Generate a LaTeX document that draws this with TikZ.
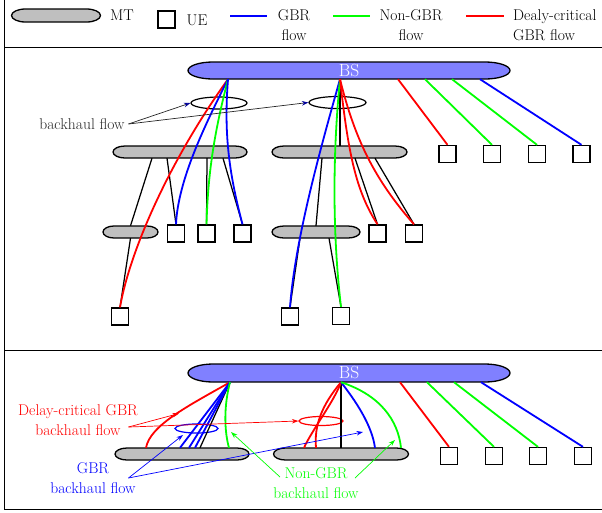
\documentclass[tikz,border=0pt]{standalone}
\usetikzlibrary{arrows.meta,calc,shapes.geometric}
% style, name, cx, cy, width, height, end x-radius, text
\newcommand\pill[8]{%
  \path[#1] ({#3-#5/2+#7},{#4-#6/2}) -- ({#3+#5/2-#7},{#4-#6/2})
    arc[start angle=-90,end angle=90,x radius=#7,y radius=#6/2]
    -- ({#3-#5/2+#7},{#4+#6/2})
    arc[start angle=90,end angle=270,x radius=#7,y radius=#6/2] -- cycle;
  \node[inner sep=0pt,minimum width=#5pt,minimum height=#6pt,text=white,font=\fontsize{17.5}{20}\selectfont] (#2) at (#3,#4) {#8};}
\tikzset{
 shp/.style={draw=black,line width=1.3pt},
 mtp/.style={shp,fill=gray!50},
 bsp/.style={shp,fill=blue!50},
 ue/.style={draw,line width=1.3pt,fill=white,minimum size=17pt,inner sep=0pt},
 bh/.style={draw,ellipse,line width=1.2pt,inner sep=0pt},
 fl/.style={line width=1.8pt},
 gbr/.style={fl,blue}, ngbr/.style={fl,green}, dgbr/.style={fl,red},
 lnk/.style={line width=1.25pt,black},
 ann/.style={line width=0.7pt,-{Stealth[length=6.5pt,width=4.5pt]}},
 txt/.style={font=\fontsize{15.6}{20}\selectfont,align=center,inner sep=0pt},
}
\begin{document}
\begin{tikzpicture}[x=1pt,y=-1pt]
\useasboundingbox (0,0) rectangle (602,512);
\clip (0,0) rectangle (602,512);
% frame
\draw[line width=1.3pt] (4.5,-5) -- (4.5,509.5) -- (610,509.5);
\draw[line width=1.3pt] (4.5,47.5) -- (610,47.5);
\draw[line width=1.3pt] (4.5,350.5) -- (610,350.5);

% ---------------- legend ----------------
\pill{mtp}{lgmt}{56}{15.5}{89}{13}{14}{}
\node[txt,anchor=west] (lgmtt) at (110,15) {MT};
\node[ue] (lgue) at (166.5,19.5) {};
\node[txt] (lguet) at (197,20) {UE};
\coordinate (lgb1) at (230,16); \coordinate (lgb2) at (267,16);
\draw[gbr] (lgb1) -- (lgb2);
\node[txt] (lgbt) at (294,25.5) {GBR\\flow};
\coordinate (lgg1) at (333,16); \coordinate (lgg2) at (370,16);
\draw[ngbr] (lgg1) -- (lgg2);
\node[txt] (lggt) at (411,25.5) {Non-GBR\\flow};
\coordinate (lgr1) at (466,16); \coordinate (lgr2) at (504,16);
\draw[dgbr] (lgr1) -- (lgr2);
\node[txt,align=left,anchor=west] (lgrt) at (513,25.5) {Dealy-critical\\GBR flow};

% ---------------- top panel ----------------
\pill{bsp}{bsT}{349}{70.5}{322}{17}{25}{BS}
\pill{mtp}{mt1}{180}{152}{134}{12}{12}{}
\pill{mtp}{mt2}{339.5}{152}{135}{12}{12}{}
\pill{mtp}{mt3}{130.5}{232}{55}{12}{11}{}
\pill{mtp}{mt4}{316}{232}{88}{12}{12}{}
\node[bh,minimum width=56pt,minimum height=12pt] (bh1) at (219,103) {};
\node[bh,minimum width=57pt,minimum height=12pt] (bh2) at (337.5,102.5) {};
\node[ue] (u1) at (176,233.5) {};
\node[ue] (u2) at (206.5,233.5) {};
\node[ue] (u3) at (242.5,233.5) {};
\node[ue] (u4) at (377.5,233.5) {};
\node[ue] (u5) at (414,233.5) {};
\node[ue] (u7) at (120,316.5) {};
\node[ue] (u8) at (290,316.5) {};
\node[ue] (u9) at (341,316) {};
\node[ue] (u14) at (447.5,154) {};
\node[ue] (u15) at (492,154) {};
\node[ue] (u16) at (537,154) {};
\node[ue] (u17) at (581.5,154) {};
\coordinate (t1) at ($(bsT.south)+(-121,0)$);
\coordinate (t2) at ($(bsT.south)+(-9,0)$);
\coordinate (t3) at ($(bsT.south)+(49,0)$);
\coordinate (t4) at ($(bsT.south)+(76,0)$);
\coordinate (t5) at ($(bsT.south)+(103,0)$);
\coordinate (t6) at ($(bsT.south)+(131,0)$);
% black links
\draw[lnk] ($(mt1.south)+(-28,0)$) -- (mt3.north);
\draw[lnk] (mt3.south) -- (u7.north);
\draw[lnk] ($(mt1.south)+(-13,0)$) -- (u1.north);
\draw[lnk] ($(mt1.south)+(27,0)$) -- (u2.north);
\draw[lnk] ($(mt1.south)+(43,0)$) -- (u3.north);
\draw[lnk] (t2) -- (t2 |- mt2.north);
\draw[lnk] ($(mt2.south)+(-17.5,0)$) -- (mt4.north);
\draw[lnk] ($(mt2.south)+(15.5,0)$) -- (u4.north);
\draw[lnk] ($(mt2.south)+(35.5,0)$) -- (u5.north);
\draw[lnk] ($(mt4.south)+(-16,0)$) -- (u8.north);
\draw[lnk] ($(mt4.south)+(13,0)$) -- (u9.north);
% flows
\draw[dgbr] (t1) .. controls (170,160) and (130,250) .. (u7.north);
\draw[gbr] (t1) .. controls (205,125) and (178,180) .. (u1.north);
\draw[ngbr] (t1) .. controls (215,130) and (208,170) .. (u2.north);
\draw[gbr] (t1) .. controls (224,130) and (228,170) .. (u3.north);
\draw[gbr] (t2) .. controls (320,150) and (295,240) .. (u8.north);
\draw[ngbr] (t2) .. controls (333,150) and (332,230) .. (u9.north);
\draw[dgbr] (t2) .. controls (348,150) and (355,190) .. (u4.north);
\draw[dgbr] (t2) .. controls (355,140) and (375,180) .. (u5.north);
\draw[dgbr] (t3) -- (u14.north);
\draw[ngbr] (t4) -- (u15.north);
\draw[ngbr] (t5) -- (u16.north);
\draw[gbr] (t6) -- (u17.north);
% annotation
\node[txt,text=black!85] (lblT) at (82,124) {backhaul flow};
\coordinate (aT) at (128.5,124);
\draw[line width=0.7pt,black!85,-{Stealth[length=6.5pt,width=4.5pt,color=blue!60!black]}] (aT) -- (bh1.west);
\draw[line width=0.7pt,black!85,-{Stealth[length=6.5pt,width=4.5pt,color=blue!60!black]}] (aT) -- (bh2.west);

% ---------------- bottom panel ----------------
\pill{bsp}{bsB}{349}{373}{322}{18}{25}{BS}
\pill{mtp}{mt5}{182}{454}{134}{12}{12}{}
\pill{mtp}{mt6}{341}{454}{135}{12}{12}{}
\node[ue] (u10) at (449,456) {};
\node[ue] (u11) at (494,456) {};
\node[ue] (u12) at (538,456) {};
\node[ue] (u13) at (583,456) {};
\node[bh,draw=blue,minimum width=43pt,minimum height=9pt] (bhB1) at (196.5,428.5) {};
\node[bh,draw=red,minimum width=44pt,minimum height=9pt] (bhB2) at (321,421) {};
\coordinate (b1) at ($(bsB.south)+(-119,0)$);
\coordinate (b2) at ($(bsB.south)+(-8,0)$);
\coordinate (b3) at ($(bsB.south)+(51,0)$);
\coordinate (b4) at ($(bsB.south)+(78,0)$);
\coordinate (b5) at ($(bsB.south)+(105,0)$);
\coordinate (b6) at ($(bsB.south)+(132,0)$);
\draw[lnk] (b1) -- ($(mt5.north)+(18,0)$);
\draw[lnk] (b2) -- (b2 |- mt6.north);
\draw[dgbr] (b1) .. controls (190,405) and (150,425) .. ($(mt5.north)+(-36,0)$);
\draw[gbr] (b1) -- ($(mt5.north)+(-2,0)$);
\draw[gbr] (b1) -- ($(mt5.north)+(7,0)$);
\draw[gbr] (b1) -- ($(mt5.north)+(13,0)$);
\draw[ngbr] (b1) .. controls (224,405) and (224,430) .. ($(mt5.north)+(47,0)$);
\draw[dgbr] (b2) .. controls (335,400) and (312,430) .. ($(mt6.north)+(-37,0)$);
\draw[dgbr] (b2) .. controls (322,405) and (314,425) .. ($(mt6.north)+(-25,0)$);
\draw[gbr] (b2) .. controls (355,400) and (372,425) .. ($(mt6.north)+(34,0)$);
\draw[ngbr] (b2) .. controls (380,395) and (398,420) .. ($(mt6.north)+(60,0)$);
\draw[dgbr] (b3) -- (u10.north);
\draw[ngbr] (b4) -- (u11.north);
\draw[ngbr] (b5) -- (u12.north);
\draw[gbr] (b6) -- (u13.north);
% annotations
\node[txt,text=red] (lblR) at (78,420) {Delay-critical GBR\\backhaul flow};
\coordinate (aR) at (128.5,427);
\coordinate (aRt) at (179,413.5);
\draw[ann,red] (aR) -- (aRt);
\draw[ann,red] (aR) -- (bhB2.west);
\node[txt,text=blue] (lblB) at (93,478) {GBR\\backhaul flow};
\coordinate (aB) at (128.5,478);
\coordinate (aBt1) at (183,435);
\coordinate (aBt2) at (363,432);
\draw[ann,blue] (aB) -- (aBt1);
\draw[ann,blue] (aB) -- (aBt2);
\node[txt,text=green] (lblG) at (316,483) {Non-GBR\\backhaul flow};
\coordinate (aG1) at (280,477);
\coordinate (aG2) at (355,478);
\coordinate (aGt1) at (231,432);
\coordinate (aGt2) at (395,440);
\draw[ann,green] (aG1) -- (aGt1);
\draw[ann,green] (aG2) -- (aGt2);
\end{tikzpicture}
\end{document}
